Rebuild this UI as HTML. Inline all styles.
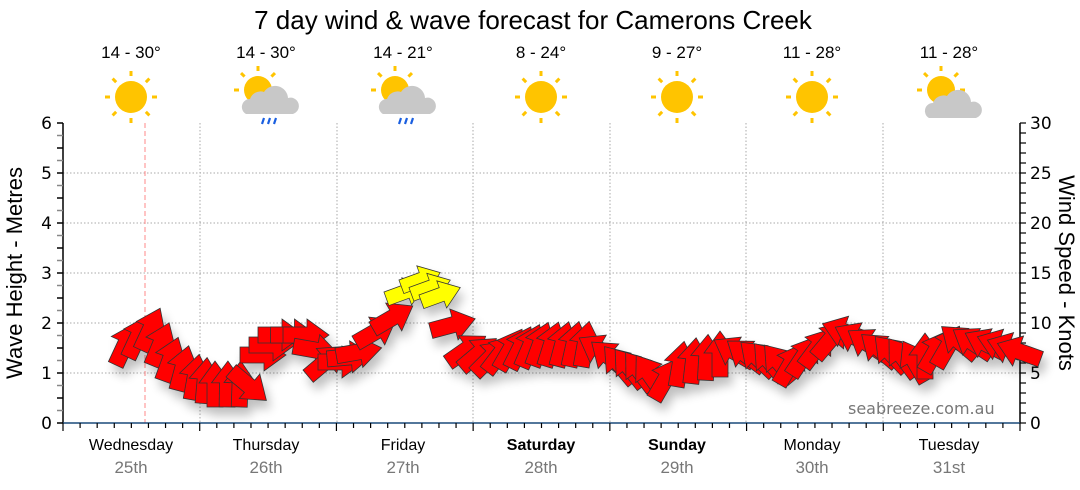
<!DOCTYPE html>
<html><head><meta charset="utf-8"><style>
html,body{margin:0;padding:0;background:#fff;width:1080px;height:490px;overflow:hidden}
svg text{font-family:"Liberation Sans","DejaVu Sans",sans-serif}
</style></head><body>
<svg id="s" width="1080" height="490" viewBox="0 0 1080 490" xmlns="http://www.w3.org/2000/svg">
<defs>
<filter id="sh" x="-50%" y="-50%" width="200%" height="200%"><feGaussianBlur in="SourceAlpha" stdDeviation="5"/><feOffset dx="4" dy="8"/><feComponentTransfer><feFuncA type="linear" slope="0.25"/></feComponentTransfer><feMerge><feMergeNode/><feMergeNode in="SourceGraphic"/></feMerge></filter>
</defs>
<text x="533" y="29" font-size="26" text-anchor="middle" fill="#000">7 day wind &amp; wave forecast for Camerons Creek</text>
<g id="grid" stroke="#aaa" stroke-width="1" stroke-dasharray="1.5,2"></g>
<line x1="145" y1="123" x2="145" y2="423" stroke="#f88" stroke-dasharray="5,3"/>
<g id="axes"></g>
<g id="icons"></g>
<text x="848" y="414" font-size="18" fill="#777" style="font-family:'DejaVu Sans',sans-serif;font-size:16px">seabreeze.com.au</text>
<g id="arrows" filter="url(#sh)"></g>
<text transform="translate(22,273) rotate(-90)" font-size="22" text-anchor="middle">Wave Height - Metres</text>
<text transform="translate(1059,273) rotate(90)" font-size="22" text-anchor="middle">Wind Speed - Knots</text>
</svg>
<script>
var NS="http://www.w3.org/2000/svg";
function el(p,t,a,txt){var e=document.createElementNS(NS,t);for(var k in a)e.setAttribute(k,a[k]);if(txt!=null)e.textContent=txt;p.appendChild(e);return e;}
var g=document.getElementById('grid'),ax=document.getElementById('axes');
for(var m=1;m<=5;m++){var y=423-50*m;el(g,'line',{x1:63,x2:1020,y1:y,y2:y});}
var xs=[63,200,337,473,610,746,883,1020];
for(var i=1;i<7;i++)el(g,'line',{x1:xs[i],x2:xs[i],y1:123,y2:423});
el(ax,'line',{x1:63,x2:63,y1:123,y2:423,stroke:'#000','stroke-width':1.5});
el(ax,'line',{x1:1020,x2:1020,y1:123,y2:423,stroke:'#000','stroke-width':1.5});
el(ax,'line',{x1:63,x2:1020,y1:423,y2:423,stroke:'#1a4a7a','stroke-width':1.5});
for(var k=0;k<=24;k++){var y=423-12.5*k;el(ax,'line',{x1:57,x2:63,y1:y,y2:y,stroke:k%2?'#888':'#000','stroke-width':1.5});}
var TF="font-family:'DejaVu Sans',sans-serif";
for(var m=0;m<=6;m++)el(ax,'text',{x:52,y:423-50*m+6,'font-size':17,'text-anchor':'end',style:TF},m);
for(var k=0;k<=30;k++){var y=423-10*k;el(ax,'line',{x1:1020,x2:1026,y1:y,y2:y,stroke:'#000','stroke-width':1.2});}
for(var m=0;m<=30;m+=5)el(ax,'text',{x:1030,y:423-10*m+6,'font-size':17,style:TF},m);
for(var i=0;i<=56;i++){var x=63+i*(957/56);var maj=i%8==0;el(ax,'line',{x1:x,x2:x,y1:423,y2:maj?431:428,stroke:'#000','stroke-width':1.2});}
var days=['Wednesday','Thursday','Friday','Saturday','Sunday','Monday','Tuesday'],dates=['25th','26th','27th','28th','29th','30th','31st'],
temps=['14 - 30°','14 - 30°','14 - 21°','8 - 24°','9 - 27°','11 - 28°','11 - 28°'],
cx=[131,266,403,541,677,812,949],ic=['s','r','r','s','s','s','c'];
var icg=document.getElementById('icons');
for(var i=0;i<7;i++){
 el(ax,'text',{x:cx[i],y:450,'font-size':16,'text-anchor':'middle','font-weight':(i==3||i==4)?'bold':'normal'},days[i]);
 el(ax,'text',{x:cx[i],y:473,'font-size':17,'text-anchor':'middle',fill:'#777'},dates[i]);
 el(ax,'text',{x:cx[i],y:58,'font-size':17,'text-anchor':'middle'},temps[i]);
 var sx=cx[i]-(ic[i]=='s'?0:8),sy=ic[i]=='s'?97:90,r=ic[i]=='s'?16:14;
 var gg=el(icg,'g',{});
 for(var a=0;a<8;a++){var t=a*Math.PI/4-Math.PI/2;if(ic[i]!='s'&&(a>=3&&a<=5))continue;
  el(gg,'line',{x1:sx+Math.cos(t)*(r+5),y1:sy+Math.sin(t)*(r+5),x2:sx+Math.cos(t)*(r+10),y2:sy+Math.sin(t)*(r+10),stroke:'#ffc400','stroke-width':3});}
 el(gg,'circle',{cx:sx,cy:sy,r:r,fill:'#ffc400'});
 if(ic[i]!='s'){var ox=cx[i]+4,oy=ic[i]=='r'?106:110;
  el(gg,'path',{d:'M'+(ox-24)+','+(oy+8)+' a8,8 0 0 1 4,-15 a11,11 0 0 1 14,-7 a13,13 0 0 1 24,6 a8,8 0 0 1 5,16 z',fill:'#c8c8c8'});
  if(ic[i]=='r')for(var d=0;d<3;d++)el(gg,'line',{x1:ox-6+d*6,y1:oy+12,x2:ox-8+d*6,y2:oy+18,stroke:'#1a5fe0','stroke-width':2.2});}
}
var K=[[125,345,-65],[150,330,-65],[170,360,-70],[195,378,-80],[215,385,-90],[240,385,-88],[248,385,40],[262,355,0],[280,335,0],[305,335,0],[315,350,10],[325,362,-40],[340,362,0],[358,352,-10],[375,332,-30],[392,318,-30],[405,292,-20],[420,280,-20],[440,295,-20],[452,325,-15],[466,350,-35],[490,358,-45],[510,350,-60],[540,345,-70],[585,345,-80],[600,350,-150],[620,365,-130],[650,375,-125],[665,380,-60],[680,365,-80],[720,355,-90],[735,352,-150],[770,362,-130],[790,365,-60],[830,340,-50],[845,332,-160],[880,350,-140],[915,362,-120],[935,352,-60],[960,342,-140],[1000,345,-160],[1030,355,-160]];
var ag=document.getElementById('arrows');
function arrow(x,y,a,yel){var s=(yel?0.9:1);
 el(ag,'polygon',{points:'-22,-8 2,-8 2,-16 24,0 2,16 2,8 -22,8',transform:'translate('+x+','+y+') rotate('+a+') scale('+s+')',fill:yel?'#ffff00':'#ff0000',stroke:'#333','stroke-width':0.8});}
for(var i=0;i<K.length-1;i++){var A=K[i],B=K[i+1];var n=Math.max(1,Math.round((B[0]-A[0])/12));
 for(var j=0;j<n;j++){var t=j/n;var x=A[0]+(B[0]-A[0])*t,y=A[1]+(B[1]-A[1])*t;var a=Math.abs(B[2]-A[2])>60?A[2]:A[2]+(B[2]-A[2])*t;
  arrow(x,y,a,x>=398&&x<=446);}}
</script>
</body></html>
